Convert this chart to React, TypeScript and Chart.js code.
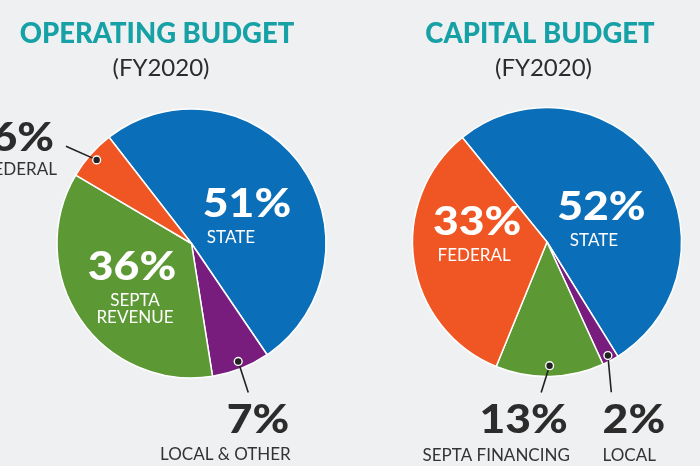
import React, { useEffect, useRef } from "react";
import { Chart, registerables } from "chart.js";

Chart.register(...registerables);

// ---------- data ----------
const opCategories = ["STATE", "LOCAL & OTHER", "SEPTA\nREVENUE", "FEDERAL"];
const opValues = [51, 7, 36, 6];
const capCategories = ["STATE", "LOCAL", "SEPTA FINANCING", "FEDERAL"];
const capValues = [52, 2, 13, 33];
const opTitle = "OPERATING BUDGET";
const capTitle = "CAPITAL BUDGET";
const subTitle = "(FY2020)";

// ---------- style ----------
const BLUE = "#0a6fb8";
const PURPLE = "#781d7d";
const GREEN = "#5c9833";
const ORANGE = "#f05623";
const TEAL = "#15a1a6";
const DARK = "#2c2c2c";
const BG = "#eff0f2";
const opColors = [BLUE, PURPLE, GREEN, ORANGE];
const capColors = [BLUE, PURPLE, GREEN, ORANGE];

const PCT_FONT = "900 39px Lato";
const PCT_SCALE = 1.14;
const SUB_FONT = "17px Lato";
const TITLE_FONT = "900 28px Lato";
const TITLE_SCALE = 0.98;
const FY_FONT = "24px Lato";

type Placement =
  | { mode: "in"; shift: number; frac: number; subDx: number }
  | {
      mode: "out";
      dotFrac: number;
      leadAng: number;
      leadLen: number;
      align: CanvasTextAlign;
      dx: number;
      dy: number;
      subDx: number;
      subDy: number;
    };

const opPlacement: Placement[] = [
  { mode: "in", shift: 10.5, frac: 0.457, subDx: -16 },
  { mode: "out", dotFrac: 0.943, leadAng: 162, leadLen: 32.6, align: "right", dx: 41, dy: 40.5, subDx: 1.5, subDy: 27 },
  { mode: "in", shift: 2.7, frac: 0.519, subDx: 3 },
  { mode: "out", dotFrac: 0.94, leadAng: -66, leadLen: 33.6, align: "right", dx: -12, dy: 4.4, subDx: 3, subDy: 24 },
];
const capPlacement: Placement[] = [
  { mode: "in", shift: 13, frac: 0.438, subDx: -7.5 },
  { mode: "out", dotFrac: 0.958, leadAng: 174.7, leadLen: 36.9, align: "left", dx: -8.7, dy: 40.3, subDx: 0, subDy: 28 },
  { mode: "out", dotFrac: 0.92, leadAng: 197.5, leadLen: 28, align: "right", dx: 26.7, dy: 40.3, subDx: 2, subDy: 28 },
  { mode: "in", shift: 14.1, frac: 0.522, subDx: -3 },
];

function drawText(
  ctx: CanvasRenderingContext2D,
  text: string,
  x: number,
  y: number,
  font: string,
  color: string,
  align: CanvasTextAlign,
  sx: number
) {
  ctx.save();
  ctx.translate(x, y);
  ctx.scale(sx, 1);
  ctx.font = font;
  ctx.fillStyle = color;
  ctx.textAlign = align;
  ctx.textBaseline = "alphabetic";
  ctx.fillText(text, 0, 0);
  ctx.restore();
}

type PieProps = {
  categories: string[];
  values: number[];
  colors: string[];
  placement: Placement[];
  rotation: number;
  padding: { left: number; right: number; top: number; bottom: number };
  title: string;
  titleX: number;
  fyX: number;
  left: number;
};

function Pie(props: PieProps) {
  const ref = useRef<HTMLCanvasElement | null>(null);
  useEffect(() => {
    if (!ref.current) return;
    const plugin = {
      id: "sliceLabels",
      afterDatasetsDraw(chart: any) {
        const ctx: CanvasRenderingContext2D = chart.ctx;
        const meta = chart.getDatasetMeta(0);
        const vals = chart.data.datasets[0].data as number[];
        const labs = chart.data.labels as string[];
        meta.data.forEach((arc: any, i: number) => {
          const { x, y, startAngle, endAngle, outerRadius } = arc.getProps(
            ["x", "y", "startAngle", "endAngle", "outerRadius"],
            true
          );
          const mid = (startAngle + endAngle) / 2;
          const p = props.placement[i];
          const pct = `${vals[i]}%`;
          const lines = String(labs[i]).split("\n");
          if (p.mode === "in") {
            const a = mid + (p.shift * Math.PI) / 180;
            const ax = x + Math.cos(a) * outerRadius * p.frac;
            const ay = y + Math.sin(a) * outerRadius * p.frac;
            drawText(ctx, pct, ax, ay, PCT_FONT, "#ffffff", "center", PCT_SCALE);
            lines.forEach((ln, k) =>
              drawText(ctx, ln, ax + p.subDx, ay + 26 + 17 * k, SUB_FONT, "#ffffff", "center", 1)
            );
          } else {
            const dxp = x + Math.cos(mid) * outerRadius * p.dotFrac;
            const dyp = y + Math.sin(mid) * outerRadius * p.dotFrac;
            const la = ((p.leadAng - 90) * Math.PI) / 180;
            const ex = dxp + Math.cos(la) * p.leadLen;
            const ey = dyp + Math.sin(la) * p.leadLen;
            ctx.save();
            ctx.strokeStyle = "#222222";
            ctx.lineWidth = 1.6;
            ctx.beginPath();
            ctx.moveTo(dxp, dyp);
            ctx.lineTo(ex, ey);
            ctx.stroke();
            ctx.beginPath();
            ctx.arc(dxp, dyp, 3.9, 0, Math.PI * 2);
            ctx.fillStyle = "#222222";
            ctx.fill();
            ctx.lineWidth = 1.4;
            ctx.strokeStyle = "#ffffff";
            ctx.stroke();
            ctx.restore();
            const tx = ex + p.dx;
            const ty = ey + p.dy;
            drawText(ctx, pct, tx, ty, PCT_FONT, DARK, p.align, PCT_SCALE);
            lines.forEach((ln, k) =>
              drawText(ctx, ln, tx + p.subDx, ty + p.subDy + 17 * k, SUB_FONT, "#333333", p.align, 1)
            );
          }
        });
        drawText(ctx, props.title, props.titleX, 43, TITLE_FONT, TEAL, "center", TITLE_SCALE);
        drawText(ctx, subTitle, props.fyX, 76, FY_FONT, DARK, "center", 1);
      },
    };
    const chart = new Chart(ref.current, {
      type: "pie",
      data: {
        labels: props.categories,
        datasets: [
          {
            data: props.values,
            backgroundColor: props.colors,
            borderColor: "#ffffff",
            borderWidth: 1.5,
          },
        ],
      },
      options: {
        responsive: false,
        animation: false,
        rotation: props.rotation,
        radius: 134.5,
        layout: { padding: props.padding },
        plugins: { legend: { display: false }, tooltip: { enabled: false } },
        events: [],
      } as any,
      plugins: [plugin],
    });
    return () => chart.destroy();
  }, []);
  return (
    <canvas
      ref={ref}
      width={350}
      height={466}
      style={{ position: "absolute", left: props.left, top: 0, width: 350, height: 466 }}
    />
  );
}

export default function App() {
  return (
    <div
      style={{
        position: "fixed",
        left: 0,
        top: 0,
        width: 700,
        height: 466,
        background: BG,
        overflow: "hidden",
      }}
    >
      <Pie
        categories={opCategories}
        values={opValues}
        colors={opColors}
        placement={opPlacement}
        rotation={-37.8}
        padding={{ left: 40, right: 7, top: 30, bottom: 9 }}
        title={opTitle}
        titleX={157}
        fyX={161}
        left={0}
      />
      <Pie
        categories={capCategories}
        values={capValues}
        colors={capColors}
        placement={capPlacement}
        rotation={-39}
        padding={{ left: 50, right: 6, top: 26, bottom: 8 }}
        title={capTitle}
        titleX={190}
        fyX={193.5}
        left={350}
      />
    </div>
  );
}
